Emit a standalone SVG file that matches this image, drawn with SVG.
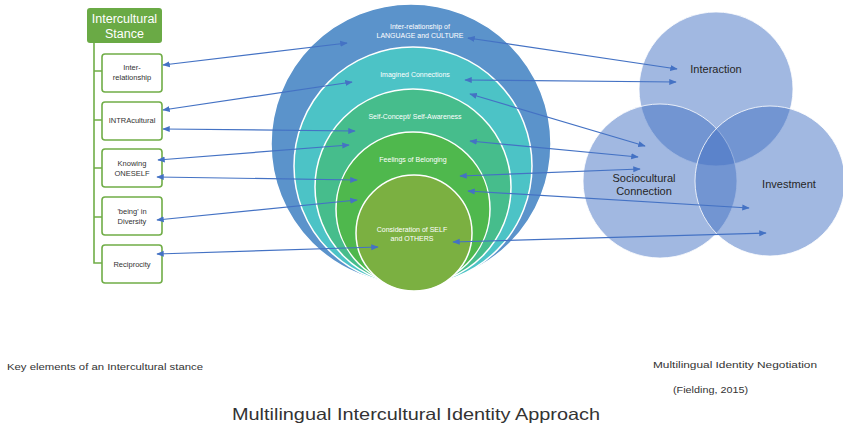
<svg xmlns="http://www.w3.org/2000/svg" width="843" height="428" viewBox="0 0 843 428">
  <style>
    .box { fill: #ffffff; stroke: #70ad47; stroke-width: 1.6; }
    .boxtxt { font-family: "Liberation Sans", Arial, sans-serif; font-size: 7.5px; fill: #333333; text-anchor: middle; }
    .ring { stroke: #ffffff; stroke-width: 1.5; }
    .ringtxt { font-family: "Liberation Sans", Arial, sans-serif; font-size: 7px; fill: #ffffff; text-anchor: middle; }
    .venn { fill: #4472c4; fill-opacity: 0.5; stroke: #ffffff; stroke-opacity: 0.8; stroke-width: 1; }
    .venntxt { font-family: "Liberation Sans", Arial, sans-serif; font-size: 11px; fill: #262626; text-anchor: middle; }
    .link { stroke: #4472c4; stroke-width: 1.2; fill: none; marker-start: url(#head); marker-end: url(#head); }
    .caption { font-family: "Liberation Sans", Arial, sans-serif; font-size: 9px; fill: #333333; }
  </style>
  <defs>
    <marker id="head" viewBox="0 0 10 10" refX="9" refY="5" markerWidth="7.5" markerHeight="7.5" markerUnits="userSpaceOnUse" orient="auto-start-reverse">
      <path d="M0,1 L10,5 L0,9 Z" fill="#4472c4"/>
    </marker>
  </defs>

  <rect width="843" height="428" fill="#ffffff"/>

  <!-- left: intercultural stance tree -->
  <g id="stance">
    <path d="M94,43 V263 H102 M94,71 H102 M94,120 H102 M94,168 H102 M94,217 H102" stroke="#70ad47" stroke-width="1.6" fill="none"/>
    <rect x="87" y="8" width="75" height="35" rx="3" fill="#6aaa45"/>
    <text x="124.5" y="23" font-family="Liberation Sans, Arial, sans-serif" font-size="12.5" fill="#ffffff" text-anchor="middle">Intercultural</text>
    <text x="124.5" y="38" font-family="Liberation Sans, Arial, sans-serif" font-size="12.5" fill="#ffffff" text-anchor="middle">Stance</text>
  </g>
  <g id="box-interrelationship">
    <rect class="box" x="102" y="54" width="60" height="38" rx="3"/>
    <text class="boxtxt" x="132" y="70">Inter-</text>
    <text class="boxtxt" x="132" y="80">relationship</text>
  </g>
  <g id="box-intracultural">
    <rect class="box" x="102" y="102" width="60" height="38" rx="3"/>
    <text class="boxtxt" x="132" y="123">INTRAcultural</text>
  </g>
  <g id="box-oneself">
    <rect class="box" x="102" y="149" width="60" height="38" rx="3"/>
    <text class="boxtxt" x="132" y="166">Knowing</text>
    <text class="boxtxt" x="132" y="176">ONESELF</text>
  </g>
  <g id="box-diversity">
    <rect class="box" x="102" y="197" width="60" height="38" rx="3"/>
    <text class="boxtxt" x="132" y="214">'being' in</text>
    <text class="boxtxt" x="132" y="224">Diversity</text>
  </g>
  <g id="box-reciprocity">
    <rect class="box" x="102" y="245" width="60" height="38" rx="3"/>
    <text class="boxtxt" x="132" y="267">Reciprocity</text>
  </g>

  <!-- centre: nested identity circles -->
  <g id="ring-language">
    <circle class="ring" cx="411" cy="144" r="140" fill="#5b93cb"/>
    <text class="ringtxt" x="420" y="29">Inter-relationship of</text>
    <text class="ringtxt" x="420" y="38">LANGUAGE and CULTURE</text>
  </g>
  <g id="ring-imagined">
    <circle class="ring" cx="413" cy="166" r="119" fill="#4cc3c6"/>
    <text class="ringtxt" x="415" y="77">Imagined Connections</text>
  </g>
  <g id="ring-selfconcept">
    <circle class="ring" cx="413" cy="187" r="98" fill="#46bd8c"/>
    <text class="ringtxt" x="415" y="119">Self-Concept/ Self-Awareness</text>
  </g>
  <g id="ring-belonging">
    <circle class="ring" cx="413" cy="209" r="77" fill="#4fb84d"/>
    <text class="ringtxt" x="413" y="162">Feelings of Belonging</text>
  </g>
  <g id="ring-consideration">
    <circle class="ring" cx="414" cy="233" r="58" fill="#7bb041"/>
    <text class="ringtxt" x="412" y="232">Consideration of SELF</text>
    <text class="ringtxt" x="412" y="241">and OTHERS</text>
  </g>

  <!-- right: identity negotiation venn -->
  <g id="venn-interaction">
    <circle class="venn" cx="716" cy="89" r="77"/>
    <text class="venntxt" x="716" y="73">Interaction</text>
  </g>
  <g id="venn-sociocultural">
    <circle class="venn" cx="660" cy="181" r="77"/>
    <text class="venntxt" x="644" y="182">Sociocultural</text>
    <text class="venntxt" x="644" y="195">Connection</text>
  </g>
  <g id="venn-investment">
    <circle class="venn" cx="770" cy="181" r="75"/>
    <text class="venntxt" x="789" y="188">Investment</text>
  </g>

  <!-- connectors -->
  <g id="connectors">
    <line class="link" x1="163" y1="65" x2="347" y2="43"/>
    <line class="link" x1="163" y1="110" x2="352" y2="82"/>
    <line class="link" x1="163" y1="129" x2="355" y2="131"/>
    <line class="link" x1="158" y1="160" x2="349" y2="145"/>
    <line class="link" x1="157" y1="177" x2="357" y2="180"/>
    <line class="link" x1="157" y1="220" x2="357" y2="200"/>
    <line class="link" x1="157" y1="254" x2="378" y2="247"/>

    <line class="link" x1="468" y1="38" x2="677" y2="69"/>
    <line class="link" x1="465" y1="80" x2="676" y2="82"/>
    <line class="link" x1="470" y1="94" x2="645" y2="146"/>
    <line class="link" x1="470" y1="141" x2="638" y2="157"/>
    <line class="link" x1="460" y1="176" x2="640" y2="169"/>
    <line class="link" x1="468" y1="191" x2="749" y2="208"/>
    <line class="link" x1="453" y1="242" x2="766" y2="233"/>
  </g>

  <!-- captions -->
  <text class="caption" x="7" y="370" textLength="196" lengthAdjust="spacingAndGlyphs">Key elements of an Intercultural stance</text>
  <text class="caption" x="653" y="368" textLength="164" lengthAdjust="spacingAndGlyphs">Multilingual Identity Negotiation</text>
  <text class="caption" x="673" y="393" textLength="75" lengthAdjust="spacingAndGlyphs">(Fielding, 2015)</text>
  <text x="232" y="420" font-family="Liberation Sans, Arial, sans-serif" font-size="16.5" fill="#333333" textLength="368" lengthAdjust="spacingAndGlyphs">Multilingual Intercultural Identity Approach</text>
</svg>
